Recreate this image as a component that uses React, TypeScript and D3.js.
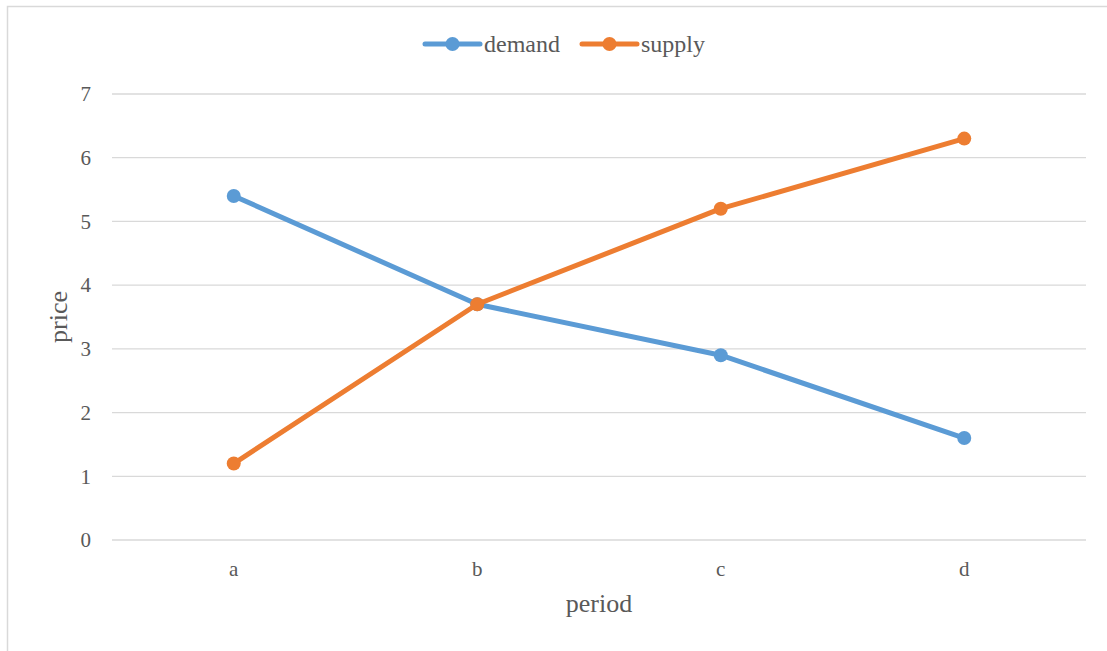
import React from "react";
import * as d3 from "d3";

const categories = ["a", "b", "c", "d"];
const demand = [5.4, 3.7, 2.9, 1.6];
const supply = [1.2, 3.7, 5.2, 6.3];
const yTicks = [0, 1, 2, 3, 4, 5, 6, 7];
const seriesNames = ["demand", "supply"];

const W = 1107;
const H = 651;
const FONT = "'Liberation Serif', 'Times New Roman', serif";
const TEXT = "#595959";
const COLORS = ["#5B9BD5", "#ED7D31"];

export default function App() {
  const left = 112, right = 1086, top = 94, bottom = 540;
  const x = d3.scaleBand<string>().domain(categories).range([left, right]);
  const y = d3.scaleLinear().domain([0, 7]).range([bottom, top]);
  const cx = (c: string) => (x(c) ?? 0) + x.bandwidth() / 2;
  const line = d3
    .line<number>()
    .x((_, i) => cx(categories[i]))
    .y((v) => y(v));
  const series = [demand, supply];
  const legendX = [425, 582];

  return (
    <svg
      width={W}
      height={H}
      style={{ position: "absolute", left: 0, top: 0, background: "#fff" }}
      fontFamily={FONT}
    >
      <rect x={7.5} y={6.5} width={W + 20} height={H + 20} fill="#fff" stroke="#d9d9d9" strokeWidth={1.5} />
      {yTicks.map((t) => (
        <g key={t}>
          <line x1={left} x2={right} y1={y(t)} y2={y(t)} stroke="#d9d9d9" strokeWidth={1.3} />
          <text x={91} y={y(t)} dy="0.35em" textAnchor="end" fontSize={21} fill={TEXT}>
            {t}
          </text>
        </g>
      ))}
      {categories.map((c) => (
        <text key={c} x={cx(c)} y={576} textAnchor="middle" fontSize={21} fill={TEXT}>
          {c}
        </text>
      ))}
      <text x={599} y={612} textAnchor="middle" fontSize={26} fill={TEXT}>
        period
      </text>
      <text
        transform={`translate(67,317) rotate(-90)`}
        textAnchor="middle"
        fontSize={26}
        fill={TEXT}
      >
        price
      </text>
      {series.map((s, si) => (
        <g key={si}>
          <path d={line(s) ?? ""} fill="none" stroke={COLORS[si]} strokeWidth={5} strokeLinejoin="round" strokeLinecap="round" />
          {s.map((v, i) => (
            <circle key={i} cx={cx(categories[i])} cy={y(v)} r={7} fill={COLORS[si]} />
          ))}
        </g>
      ))}
      {seriesNames.map((n, i) => (
        <g key={n}>
          <line x1={legendX[i]} x2={legendX[i] + 55} y1={44} y2={44} stroke={COLORS[i]} strokeWidth={5} strokeLinecap="round" />
          <circle cx={legendX[i] + 27.5} cy={44} r={7} fill={COLORS[i]} />
          <text x={legendX[i] + 59} y={44} dy="0.35em" fontSize={24} fill={TEXT}>
            {n}
          </text>
        </g>
      ))}
    </svg>
  );
}
